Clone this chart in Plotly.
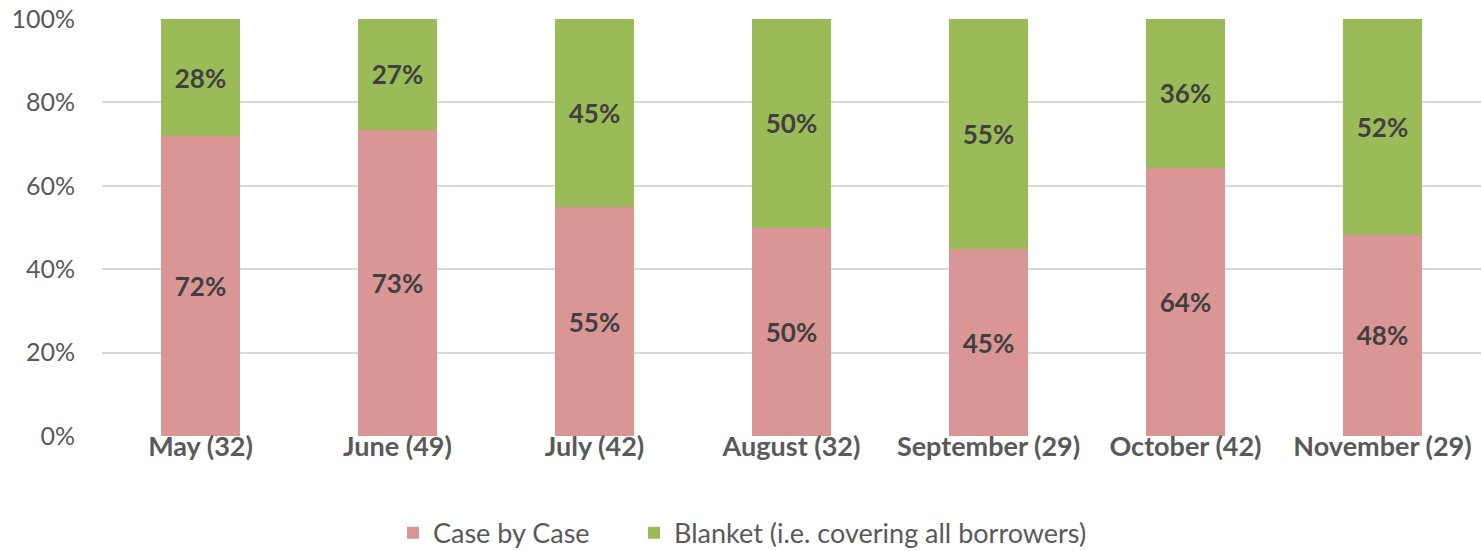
import plotly.graph_objects as go

categories = ["May (32)", "June (49)", "July (42)", "August (32)", "September (29)", "October (42)", "November (29)"]
case_by_case = [71.9, 73.4, 54.8, 50.0, 44.8, 64.3, 48.3]
blanket = [28.1, 26.6, 45.2, 50.0, 55.2, 35.7, 51.7]
series_names = ["Case by Case", "Blanket (i.e. covering all borrowers)"]
tick_vals = [0, 20, 40, 60, 80, 100]
tick_text = ["0%", "20%", "40%", "60%", "80%", "100%"]

FONT = "Lato, 'Open Sans', sans-serif"

fig = go.Figure()
for name, vals, color, leg in [(series_names[0], case_by_case, "#DA9694", "legend"),
                               (series_names[1], blanket, "#9BBB59", "legend2")]:
    fig.add_trace(go.Bar(
        x=categories, y=vals, name=name, legend=leg, showlegend=True,
        marker=dict(color=color, line=dict(width=0)),
        texttemplate="<b>%{y:.0f}%</b>", textposition="inside",
        insidetextanchor="middle",
        textfont=dict(family=FONT, size=26, color="#404040"),
        hoverinfo="skip",
    ))

legend_common = dict(
    orientation="h", xanchor="left", y=-0.233, yanchor="middle",
    font=dict(family=FONT, size=27, color="#595959"),
    itemwidth=30, bgcolor="rgba(0,0,0,0)", visible=True,
)

fig.update_layout(
    barmode="stack",
    bargap=0.6,
    width=1481, height=551,
    showlegend=True,
    margin=dict(l=102, r=0, t=19, b=115, autoexpand=False),
    paper_bgcolor="white", plot_bgcolor="white",
    font=dict(family=FONT, color="#595959"),
    uniformtext=dict(mode="show", minsize=10),
    legend=dict(x=0.2110, **legend_common),
    legend2=dict(x=0.3858, **legend_common),
    xaxis=dict(
        tickfont=dict(family=FONT, size=27, color="#595959"),
        tickprefix="<b>", ticksuffix="</b>",
        showline=False, ticks="", ticklabelstandoff=-8,
    ),
    yaxis=dict(
        range=[0, 100], tickvals=tick_vals, ticktext=tick_text,
        tickfont=dict(family=FONT, size=25, color="#595959"),
        showgrid=True, gridcolor="#D9D9D9", gridwidth=1.5,
        zeroline=False, ticks="", ticklen=0, ticklabeloverflow="allow",
        ticklabelstandoff=26,
    ),
)

# remove the browser's default body margin so the figure fills the window exactly
fig.write_html("out.html", config={"displayModeBar": False},
               post_script="document.body.style.margin='0';")
